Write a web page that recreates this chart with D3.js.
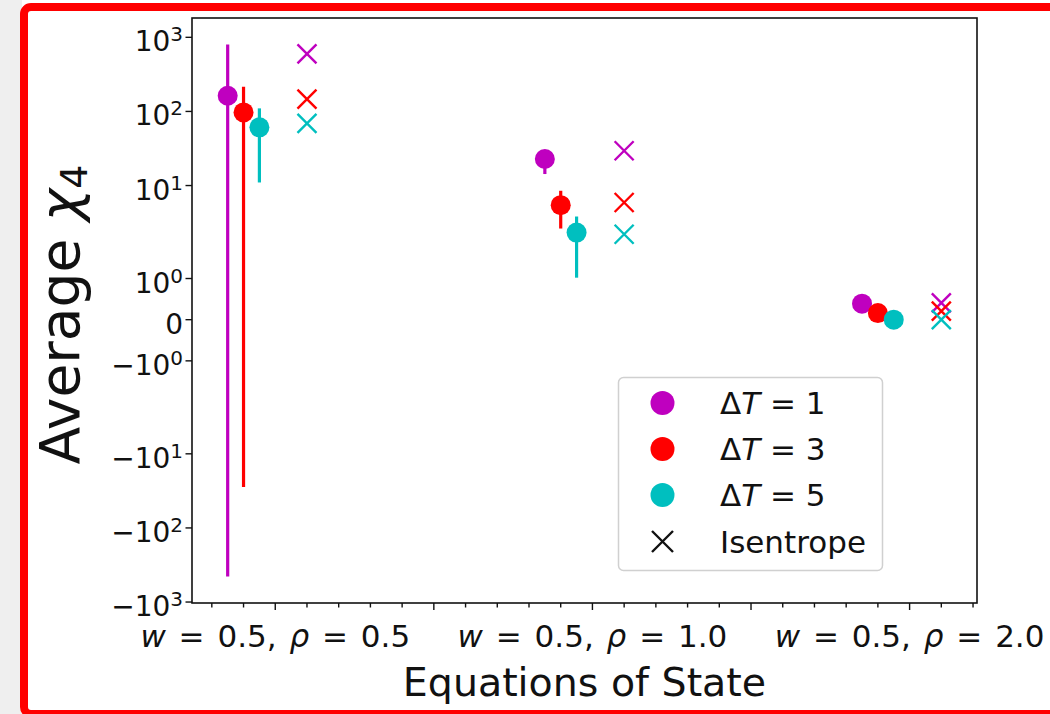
<!DOCTYPE html>
<html>
<head>
<meta charset="utf-8">
<script src="https://cdn.jsdelivr.net/npm/d3@7"></script>
<style>
  html, body { margin: 0; padding: 0; background: #ffffff; }
  svg { display: block; }
  text { font-family: "DejaVu Sans", sans-serif; fill: #111; }
</style>
</head>
<body>
<svg id="chart" width="1050" height="714"></svg>
<script>
// ---------------- data ----------------
const categories = ["w=0.5, ρ=0.5", "w=0.5, ρ=1.0", "w=0.5, ρ=2.0"];
const seriesNames = ["ΔT = 1", "ΔT = 3", "ΔT = 5"];
const seriesColors = ["#bf00bf", "#ff0000", "#00bfbf"];
const seriesOffsets = [-0.15, -0.10, -0.05];
const isentropeOffset = 0.10;

const dt1Mean = [163, 22.8, 0.39];
const dt1Low  = [-451, 14.3, 0.36];
const dt1High = [798, 26.0, 0.42];

const dt3Mean = [97, 5.44, 0.16];
const dt3Low  = [-28, 2.63, 0.13];
const dt3High = [216, 8.5, 0.19];

const dt5Mean = [61, 2.32, 0.0];
const dt5Low  = [11, 1.02, -0.03];
const dt5High = [110, 3.82, 0.03];

const isentrope1 = [597, 29.5, 0.41];
const isentrope3 = [147, 5.9, 0.21];
const isentrope5 = [69, 2.2, 0.0];

const yTickValues = [-1000, -100, -10, -1, 0, 1, 10, 100, 1000];
const xMajorTicks = [1.0, 1.5, 2.0, 2.5, 3.0];
const xLabel = "Equations of State";

// ---------------- layout ----------------
const svg = d3.select("#chart");
const W = 1050, H = 714;
const plot = { left: 192, right: 977, top: 18, bottom: 603 };

// background & frame
svg.append("rect").attr("x", 0).attr("y", 0).attr("width", 22).attr("height", H).attr("fill", "#efefef");
svg.append("rect").attr("x", 24).attr("y", 7).attr("width", 1060).attr("height", 707)
  .attr("rx", 7).attr("fill", "#ffffff").attr("stroke", "#ff0000").attr("stroke-width", 8);

// symlog transform (matplotlib style: linthresh 2, linscale 1)
const LINTHRESH = 2, LINSCALE = 1;
const linAdj = LINSCALE / (1 - 1 / 10);
function symT(v) {
  const a = Math.abs(v);
  if (a <= LINTHRESH) return v * linAdj / LINTHRESH;
  return Math.sign(v) * (linAdj + Math.log10(a / LINTHRESH));
}

const series = [
  { mean: dt1Mean, low: dt1Low, high: dt1High, iso: isentrope1 },
  { mean: dt3Mean, low: dt3Low, high: dt3High, iso: isentrope3 },
  { mean: dt5Mean, low: dt5Low, high: dt5High, iso: isentrope5 }
];

// data extents with 5% margins (transformed space)
let allY = [], allX = [];
series.forEach((s, si) => {
  s.mean.forEach((m, i) => {
    allY.push(symT(s.low[i]), symT(s.high[i]), symT(s.iso[i]), symT(m));
    allX.push(i + 1 + seriesOffsets[si], i + 1 + isentropeOffset);
  });
});
const [yMin, yMax] = d3.extent(allY);
const [xMin, xMax] = d3.extent(allX);
const yPad = (yMax - yMin) * 0.05, xPad = (xMax - xMin) * 0.05;

const yLin = d3.scaleLinear().domain([yMin - yPad, yMax + yPad]).range([plot.bottom, plot.top]);
const y = v => yLin(symT(v));
const x = d3.scaleLinear().domain([xMin - xPad, xMax + xPad]).range([plot.left, plot.right]);

// ---------------- marks ----------------
const g = svg.append("g");

series.forEach((s, si) => {
  const col = seriesColors[si];
  const sg = g.append("g");
  sg.selectAll("line.err").data(s.mean).enter().append("line")
    .attr("x1", (d, i) => x(i + 1 + seriesOffsets[si]))
    .attr("x2", (d, i) => x(i + 1 + seriesOffsets[si]))
    .attr("y1", (d, i) => y(s.low[i]))
    .attr("y2", (d, i) => y(s.high[i]))
    .attr("stroke", col).attr("stroke-width", 3.2);
  sg.selectAll("circle").data(s.mean).enter().append("circle")
    .attr("cx", (d, i) => x(i + 1 + seriesOffsets[si]))
    .attr("cy", d => y(d))
    .attr("r", 10).attr("fill", col);
});

function cross(sel, cx, cy, r, col, sw) {
  sel.append("path")
    .attr("d", `M${cx - r},${cy - r}L${cx + r},${cy + r}M${cx - r},${cy + r}L${cx + r},${cy - r}`)
    .attr("stroke", col).attr("stroke-width", sw).attr("fill", "none");
}
series.forEach((s, si) => {
  const col = seriesColors[si];
  s.iso.forEach((v, i) => cross(g, x(i + 1 + isentropeOffset), y(v), 9.5, col, 2.4));
});

// ---------------- axes ----------------
const axisCol = "#111";
svg.append("rect").attr("x", plot.left).attr("y", plot.top)
  .attr("width", plot.right - plot.left).attr("height", plot.bottom - plot.top)
  .attr("fill", "none").attr("stroke", axisCol).attr("stroke-width", 1.6);

// y ticks
const yTicksG = svg.append("g");
yTickValues.forEach(v => {
  const ty = y(v);
  yTicksG.append("line").attr("x1", plot.left - 6.5).attr("x2", plot.left)
    .attr("y1", ty).attr("y2", ty).attr("stroke", axisCol).attr("stroke-width", 1.4);
  const t = yTicksG.append("text").attr("x", 183).attr("y", ty + 14)
    .attr("text-anchor", "end").style("font-size", "28px");
  if (v === 0) {
    t.text("0");
  } else {
    const exp = Math.round(Math.log10(Math.abs(v)));
    t.append("tspan").text((v < 0 ? "−" : "") + "10");
    t.append("tspan").attr("dy", "-0.5em").style("font-size", "20px").text(exp);
  }
});

// x ticks
const xTicksG = svg.append("g");
const minorTicks = d3.range(Math.ceil(x.domain()[0] * 10), Math.floor(x.domain()[1] * 10) + 1).map(d => d / 10);
minorTicks.forEach(v => {
  const isMajor = xMajorTicks.some(m => Math.abs(m - v) < 1e-9);
  const tx = x(v);
  xTicksG.append("line").attr("x1", tx).attr("x2", tx)
    .attr("y1", plot.bottom).attr("y2", plot.bottom + (isMajor ? 7 : 4.5))
    .attr("stroke", axisCol).attr("stroke-width", 1.4);
});
categories.forEach((c, i) => {
  const t = xTicksG.append("text").attr("x", x(i + 1)).attr("y", 647)
    .attr("text-anchor", "middle").style("font-size", "31px")
    .style("word-spacing", "3px");
  const parts = c.match(/(w|ρ|[^wρ]+)/g);
  parts.forEach(p => {
    let s = p.replace(/=/g, " = ");
    const ts = t.append("tspan").text(s);
    if (p === "w" || p === "ρ") ts.style("font-style", "italic");
  });
});

// axis labels
svg.append("text").attr("x", (plot.left + plot.right) / 2).attr("y", 696)
  .attr("text-anchor", "middle").style("font-size", "39.5px").text(xLabel);

const yl = svg.append("text")
  .attr("transform", `translate(79,${(plot.top + plot.bottom) / 2 + 4}) rotate(-90)`)
  .attr("text-anchor", "middle").style("font-size", "55px");
yl.append("tspan").text("Average ");
yl.append("tspan").style("font-style", "italic").text("χ");
yl.append("tspan").attr("dy", "0.2em").style("font-size", "38px").text("4");

// ---------------- legend ----------------
const lg = svg.append("g");
lg.append("rect").attr("x", 618.5).attr("y", 377.5).attr("width", 264).attr("height", 193)
  .attr("rx", 5).attr("fill", "#ffffff").attr("fill-opacity", 0.85)
  .attr("stroke", "#d0d0d0").attr("stroke-width", 1.5);
const rowY = [403, 449, 495, 541.5];
seriesNames.forEach((n, i) => {
  lg.append("circle").attr("cx", 662.5).attr("cy", rowY[i]).attr("r", 12).attr("fill", seriesColors[i]);
  const t = lg.append("text").attr("x", 720).attr("y", rowY[i] + 11).style("font-size", "31px");
  const m = n.match(/^Δ(T)(.*)$/);
  t.append("tspan").text("Δ");
  t.append("tspan").style("font-style", "italic").text(m[1]);
  t.append("tspan").text(m[2]);
});
cross(lg, 662.5, rowY[3], 10.5, "#111", 2.4);
lg.append("text").attr("x", 720).attr("y", rowY[3] + 11).style("font-size", "31px").text("Isentrope");
</script>
</body>
</html>
